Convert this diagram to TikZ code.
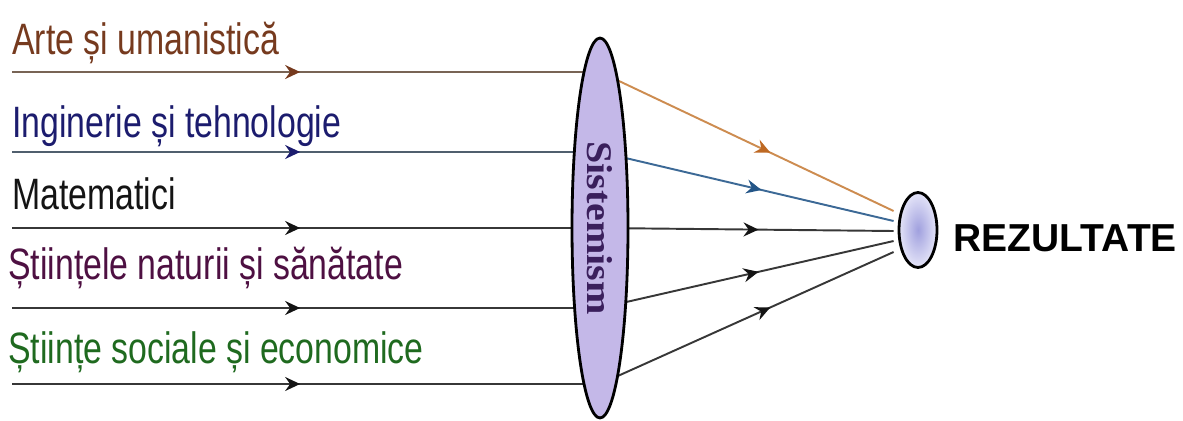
\documentclass[tikz,border=0pt]{standalone}
\usepackage{fontspec}
\setmainfont{Liberation Sans}
\newfontfamily\sisserif{Liberation Serif}
\usepackage{graphicx}
\usetikzlibrary{positioning,arrows.meta,shapes.geometric,calc,backgrounds,decorations.markings}

\definecolor{artecol}{RGB}{118,58,30}
\definecolor{ingcol}{RGB}{28,28,110}
\definecolor{matcol}{RGB}{20,20,20}
\definecolor{natcol}{RGB}{78,16,66}
\definecolor{soccol}{RGB}{31,106,31}
\definecolor{sisfill}{RGB}{196,184,232}
\definecolor{sistext}{RGB}{58,31,92}
\definecolor{artelin}{RGB}{120,100,85}
\definecolor{inglin}{RGB}{80,95,110}
\definecolor{grylin}{RGB}{55,55,55}
\definecolor{orglin}{RGB}{205,140,80}
\definecolor{orgtip}{RGB}{190,105,35}
\definecolor{blulin}{RGB}{60,105,150}
\definecolor{blutip}{RGB}{35,85,135}
\definecolor{rezin}{RGB}{160,160,222}
\definecolor{rezout}{RGB}{228,228,248}

\newcommand{\fieldfont}{\fontsize{25pt}{28pt}\selectfont}
\newcommand{\sisfont}{\sisserif\bfseries\fontsize{22.8pt}{26pt}\selectfont}

\begin{document}
\begin{tikzpicture}[
  x=0.02cm, y=-0.02cm,
  field/.style={anchor=base west, inner sep=0pt, xscale=0.77, font=\fieldfont},
  flow/.style={line width=1.1pt},
  midarr/.style 2 args={postaction={decorate},
    decoration={markings, mark=at position #1 with {\arrow[#2]{Stealth[length=3mm,width=2.8mm,inset=1mm]}}}},
  lens/.style={ellipse, draw=black, line width=1.6pt, inner sep=0pt}
]
\useasboundingbox (0,0) rectangle (1183,420);

% --- Field labels on the left ---
\node[field, text=artecol] (arte) at (12,54)  {Arte și umanistică};
\node[field, text=ingcol]  (ing)  at (12,137) {Inginerie și tehnologie};
\node[field, text=matcol]  (mat)  at (12,209) {Matematici};
\node[field, text=natcol]  (nat)  at (8,279)  {Științele naturii și sănătate};
\node[field, text=soccol]  (soc)  at (8,363)  {Științe sociale și economice};

% --- Lens and result ---
\node[lens, fill=sisfill, minimum width=7.6cm, minimum height=1.12cm,
      rotate=-90, font=\sisfont, text=sistext] (sis) at (600,228)
  {\scalebox{1}[0.9]{Sistemism}};
\node[lens, inner color=rezin, outer color=rezout,
      minimum width=0.76cm, minimum height=1.5cm] (rez) at (918,230) {};
\node[anchor=west, inner sep=0pt, right=0.3cm of rez, yshift=-0.16cm,
      font=\fontsize{22.2pt}{24pt}\selectfont\bfseries] (rezt) {REZULTATE};

% --- Inputs and outputs ---
\coordinate (in1) at (12,72);
\coordinate (in2) at (12,152);
\coordinate (in3) at (12,228);
\coordinate (in4) at (12,308);
\coordinate (in5) at (12,384);
\coordinate (o1) at ($(rez.west)+(-4,-19)$);
\coordinate (o2) at ($(rez.west)+(-4,-9)$);
\coordinate (o3) at ($(rez.west)+(-4,1)$);
\coordinate (o4) at ($(rez.west)+(-4,11)$);
\coordinate (o5) at ($(rez.west)+(-4,22)$);

\begin{scope}[on background layer]
\draw[flow, artelin, midarr={0.49}{artecol}] (in1) -- (in1 -| sis.center);
\draw[flow, inglin,  midarr={0.49}{ingcol}]  (in2) -- (in2 -| sis.center);
\draw[flow, grylin,  midarr={0.49}{matcol}]  (in3) -- (in3 -| sis.center);
\draw[flow, grylin,  midarr={0.49}{matcol}]  (in4) -- (in4 -| sis.center);
\draw[flow, grylin,  midarr={0.49}{matcol}]  (in5) -- (in5 -| sis.center);

\draw[flow, orglin, midarr={0.58}{orgtip}] (in1 -| sis.center) -- (o1);
\draw[flow, blulin, midarr={0.55}{blutip}] (in2 -| sis.center) -- (o2);
\draw[flow, grylin, midarr={0.54}{matcol}] (in3 -| sis.center) -- (o3);
\draw[flow, grylin, midarr={0.54}{matcol}] (in4 -| sis.center) -- (o4);
\draw[flow, grylin, midarr={0.58}{matcol}] (in5 -| sis.center) -- (o5);
\end{scope}

\end{tikzpicture}
\end{document}
